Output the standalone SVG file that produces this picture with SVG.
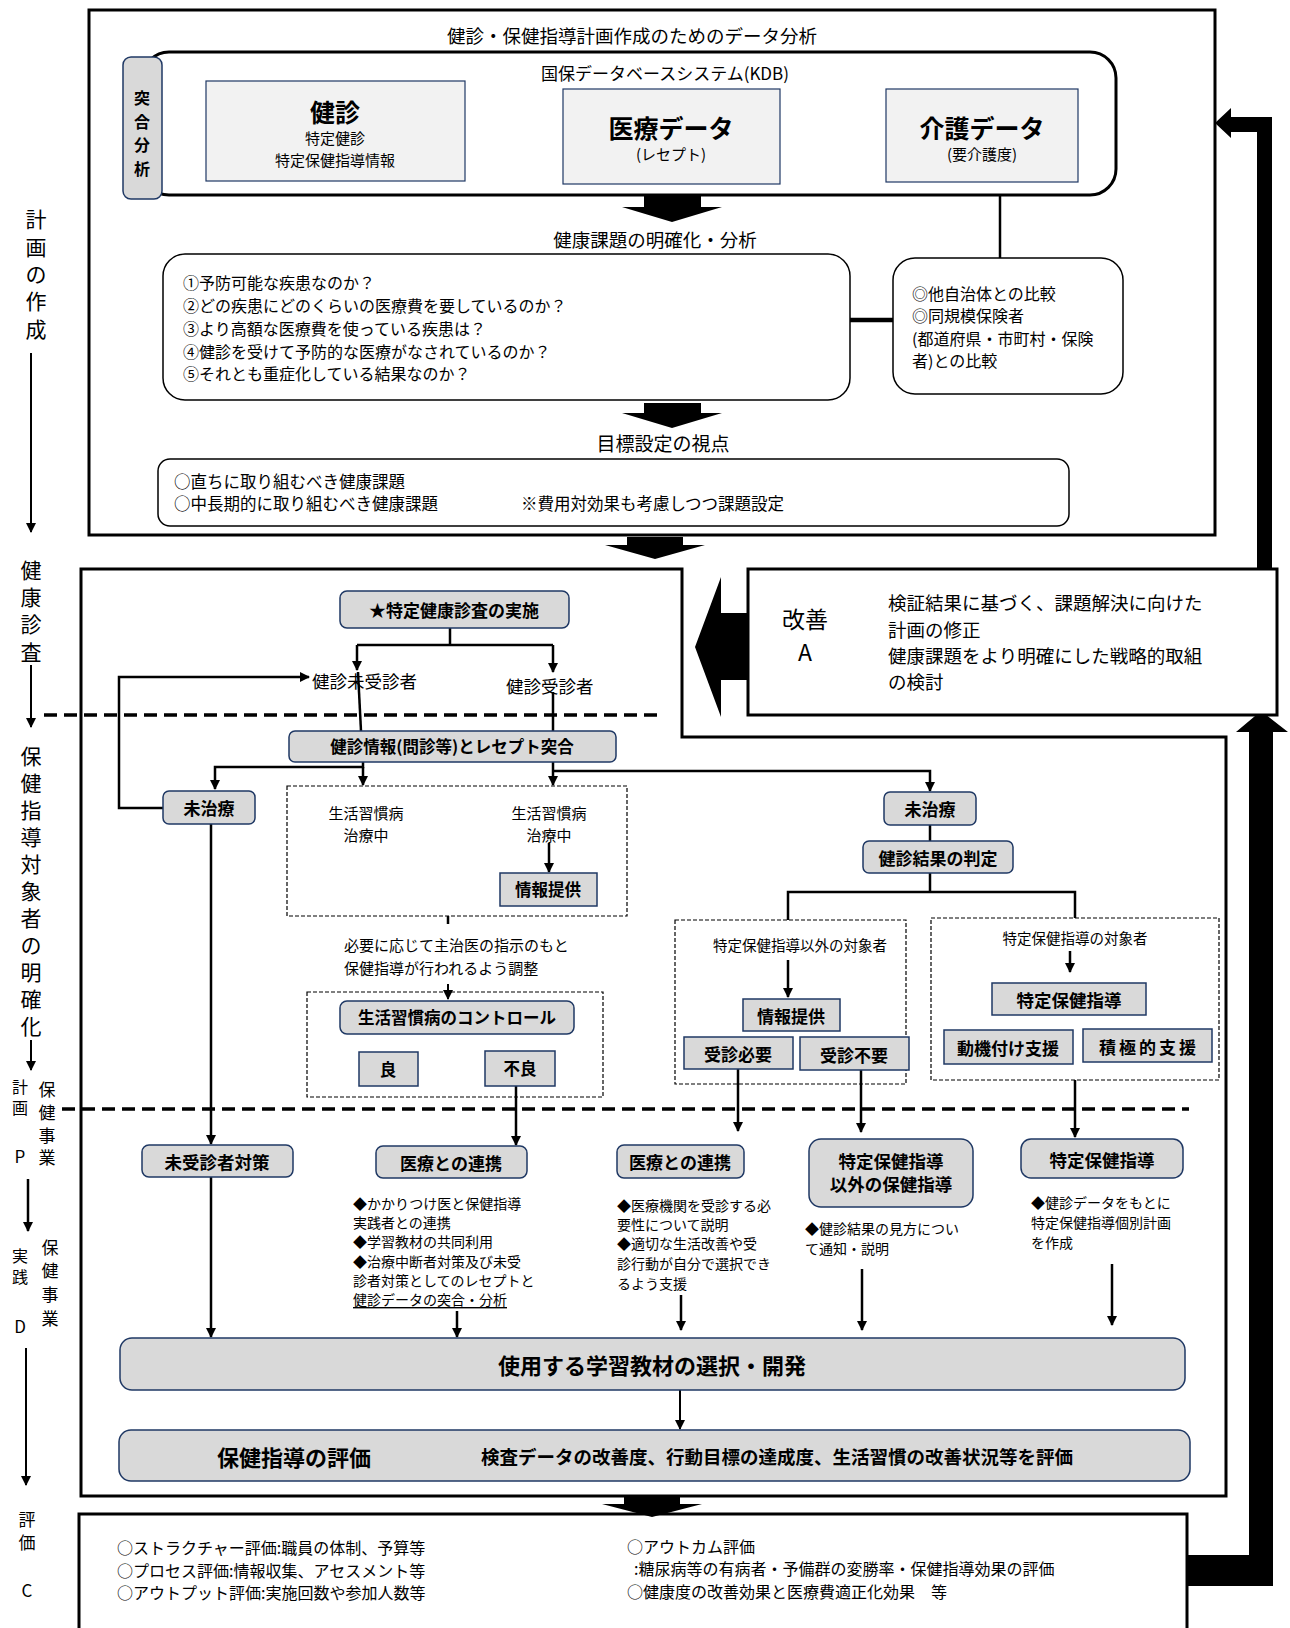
<svg xmlns="http://www.w3.org/2000/svg" width="1290" height="1628" viewBox="0 0 1290 1628">
<defs>
<style>
text{font-family:"Noto Sans CJK JP","Noto Sans",sans-serif;fill:#000;dominant-baseline:central}
.c{text-anchor:middle}
.b{font-weight:700}
.frame{fill:#fff;stroke:#000;stroke-width:3}
.rnd{fill:#fff;stroke:#000;stroke-width:1.5}
.kdb{fill:#f2f2f2;stroke:#1f3864;stroke-width:1.2}
.node{fill:#d9d9d9;stroke:#1f3864;stroke-width:1.5}
.dash{fill:none;stroke:#000;stroke-width:1.2;stroke-dasharray:4 2}
.sep{fill:none;stroke:#000;stroke-width:3.5;stroke-dasharray:13 7}
.ln{fill:none;stroke:#000;stroke-width:2.5}
.ln2{fill:none;stroke:#000;stroke-width:2}
.thick{fill:none;stroke:#000;stroke-width:4.5}
.blk{fill:#000;stroke:none}
</style>
<marker id="ah" viewBox="0 0 10 10" refX="9" refY="5" markerWidth="10" markerHeight="10" markerUnits="userSpaceOnUse" orient="auto">
<path d="M0,0 L10,5 L0,10 z" fill="#000"/>
</marker>
</defs>
<rect width="1290" height="1628" fill="#fff"/>

<!-- side labels -->
<g id="side-labels" font-size="21">
<text class="c" x="36" y="218" font-size="21">計</text>
<text class="c" x="36" y="246" font-size="21">画</text>
<text class="c" x="36" y="273" font-size="21">の</text>
<text class="c" x="36" y="300" font-size="21">作</text>
<text class="c" x="36" y="328" font-size="21">成</text>
<text class="c" x="31" y="569" font-size="21">健</text>
<text class="c" x="31" y="596" font-size="21">康</text>
<text class="c" x="31" y="623" font-size="21">診</text>
<text class="c" x="31" y="651" font-size="21">査</text>
<text class="c" x="31" y="755" font-size="21">保</text>
<text class="c" x="31" y="782" font-size="21">健</text>
<text class="c" x="31" y="809" font-size="21">指</text>
<text class="c" x="31" y="836" font-size="21">導</text>
<text class="c" x="31" y="863" font-size="21">対</text>
<text class="c" x="31" y="890" font-size="21">象</text>
<text class="c" x="31" y="917" font-size="21">者</text>
<text class="c" x="31" y="944" font-size="21">の</text>
<text class="c" x="31" y="971" font-size="21">明</text>
<text class="c" x="31" y="998" font-size="21">確</text>
<text class="c" x="31" y="1025" font-size="21">化</text>
<text class="c" x="20" y="1086" font-size="16">計</text>
<text class="c" x="20" y="1107" font-size="16">画</text>
<text class="c" x="47" y="1088" font-size="17">保</text>
<text class="c" x="47" y="1111" font-size="17">健</text>
<text class="c" x="47" y="1134" font-size="17">事</text>
<text class="c" x="47" y="1156" font-size="17">業</text>
<text class="c" x="20" y="1155" font-size="17">P</text>
<text class="c" x="20" y="1255" font-size="16">実</text>
<text class="c" x="20" y="1276" font-size="16">践</text>
<text class="c" x="50" y="1246" font-size="17">保</text>
<text class="c" x="50" y="1269" font-size="17">健</text>
<text class="c" x="50" y="1293" font-size="17">事</text>
<text class="c" x="50" y="1317" font-size="17">業</text>
<text class="c" x="20" y="1325" font-size="17">D</text>
<text class="c" x="27" y="1518" font-size="17">評</text>
<text class="c" x="27" y="1541" font-size="17">価</text>
<text class="c" x="27" y="1589" font-size="17">C</text>
</g>

<!-- frames -->
<g id="frame-plan">
<rect class="frame" x="89" y="10" width="1126" height="525"/>
<text class="c" x="632" y="35" font-size="18.5">健診・保健指導計画作成のためのデータ分析</text>
</g>
<g id="frame-middle">
<path class="frame" d="M81,569 H682 V737 H1226 V1496 H81 Z"/>
</g>
<g id="frame-eval">
<rect class="frame" x="79" y="1514" width="1108" height="130"/>
<text x="117" y="1547" font-size="16">○ストラクチャー評価:職員の体制、予算等</text>
<text x="117" y="1570" font-size="16">○プロセス評価:情報収集、アセスメント等</text>
<text x="117" y="1592" font-size="16">○アウトプット評価:実施回数や参加人数等</text>
<text x="627" y="1546" font-size="16">○アウトカム評価</text>
<text x="634" y="1568" font-size="16">:糖尿病等の有病者・予備群の変勝率・保健指導効果の評価</text>
<text x="627" y="1591" font-size="16">○健康度の改善効果と医療費適正化効果　等</text>
</g>

<!-- connectors -->
<g id="connectors">
<!-- side arrows -->
<line class="ln2" x1="31" y1="353" x2="31" y2="532" marker-end="url(#ah)"/>
<line class="ln2" x1="31" y1="665" x2="31" y2="727" marker-end="url(#ah)"/>
<line class="ln2" x1="31" y1="1040" x2="31" y2="1070" marker-end="url(#ah)"/>
<line class="ln" x1="28" y1="1179" x2="28" y2="1231" marker-end="url(#ah)"/>
<line class="ln2" x1="26" y1="1348" x2="26" y2="1485" marker-end="url(#ah)"/>
<!-- separators -->
<line class="sep" x1="44" y1="715" x2="662" y2="715"/>
<line class="sep" x1="62" y1="1109" x2="1189" y2="1109"/>
<!-- top section -->
<line class="thick" x1="465" y1="133" x2="563" y2="133"/>
<line class="thick" x1="780" y1="133" x2="886" y2="133"/>
<line class="ln" x1="1000" y1="195" x2="1000" y2="258"/>
<line class="thick" x1="850" y1="320" x2="893" y2="320"/>
<polygon class="blk" points="644,195 701,195 701,207 722,207 672,222 622,207 644,207"/>
<polygon class="blk" points="644,403 701,403 701,413 722,413 672,428 622,413 644,413"/>
<polygon class="blk" points="627,537 683,537 683,545 705,545 655,559 605,545 627,545"/>
<polygon class="blk" points="624,1497 680,1497 680,1504 702,1504 652,1517 602,1504 624,1504"/>
<!-- improve arrow -->
<polygon class="blk" stroke="#8ea9db" stroke-width="0.8" points="695,647 721,577 721,613 748,613 748,680 721,680 721,717"/>
<!-- right feedback arrows -->
<polygon class="blk" points="1257,569 1257,132 1231,132 1231,138 1215,123 1231,108 1231,117 1272,117 1272,569"/>
<polygon class="blk" points="1187,1555 1249,1555 1249,732 1236,732 1261,711 1288,732 1273,732 1273,1586 1187,1586"/>
<!-- middle flow -->
<polyline class="ln" points="450,628 450,645"/>
<polyline class="ln" points="357,645 553,645"/>
<line class="ln" x1="357" y1="645" x2="357" y2="670" marker-end="url(#ah)"/>
<line class="ln" x1="553" y1="645" x2="553" y2="672" marker-end="url(#ah)"/>
<line class="ln" x1="358" y1="672" x2="361" y2="731"/>
<line class="ln" x1="553" y1="692" x2="553" y2="731"/>
<polyline class="ln" points="163,808 119,808 119,677 309,677" marker-end="url(#ah)"/>
<polyline class="ln" points="363,762 363,767 215,767 215,789" marker-end="url(#ah)"/>
<line class="ln" x1="363" y1="767" x2="363" y2="785" marker-end="url(#ah)"/>
<line class="ln" x1="553" y1="762" x2="553" y2="785" marker-end="url(#ah)"/>
<polyline class="ln" points="553,771 930,771 930,791" marker-end="url(#ah)"/>
<line class="ln" x1="211" y1="824" x2="211" y2="1144" marker-end="url(#ah)"/>
<line class="ln" x1="549" y1="843" x2="549" y2="872" marker-end="url(#ah)"/>
<line class="ln" x1="448" y1="916" x2="448" y2="924"/>
<line class="ln2" x1="448" y1="984" x2="448" y2="999" marker-end="url(#ah)"/>
<line class="ln" x1="516" y1="1086" x2="516" y2="1145" marker-end="url(#ah)"/>
<line class="ln" x1="930" y1="825" x2="930" y2="841"/>
<polyline class="ln" points="930,873 930,892"/>
<polyline class="ln" points="788,920 788,892 1075,892 1075,918"/>
<line class="ln" x1="788" y1="960" x2="788" y2="997" marker-end="url(#ah)"/>
<line class="ln" x1="738" y1="1069" x2="738" y2="1131" marker-end="url(#ah)"/>
<line class="ln" x1="861" y1="1070" x2="861" y2="1132" marker-end="url(#ah)"/>
<line class="ln" x1="1070" y1="951" x2="1070" y2="972" marker-end="url(#ah)"/>
<line class="ln" x1="1075" y1="1080" x2="1075" y2="1137" marker-end="url(#ah)"/>
<!-- lower flow -->
<line class="ln" x1="211" y1="1177" x2="211" y2="1337" marker-end="url(#ah)"/>
<line class="ln" x1="457" y1="1311" x2="457" y2="1337" marker-end="url(#ah)"/>
<line class="ln" x1="681" y1="1295" x2="681" y2="1330" marker-end="url(#ah)"/>
<line class="ln" x1="862" y1="1269" x2="862" y2="1330" marker-end="url(#ah)"/>
<line class="ln" x1="1112" y1="1264" x2="1112" y2="1325" marker-end="url(#ah)"/>
<line class="ln2" x1="680" y1="1390" x2="680" y2="1429" marker-end="url(#ah)"/>
</g>

<!-- top section nodes -->
<g id="kdb">
<rect x="143" y="52" width="973" height="143" rx="26" fill="#fff" stroke="#000" stroke-width="3"/>
<text class="c" x="665" y="72" font-size="17">国保データベースシステム(KDB)</text>
</g>
<g id="totsugou">
<rect class="node" x="123" y="57" width="39" height="142" rx="8"/>
<text class="c b" x="142" y="97" font-size="16">突</text>
<text class="c b" x="142" y="120.5" font-size="16">合</text>
<text class="c b" x="142" y="144" font-size="16">分</text>
<text class="c b" x="142" y="167.5" font-size="16">析</text>
</g>
<g id="kenshin">
<rect class="kdb" x="206" y="81" width="259" height="100"/>
<text class="c b" x="335" y="111" font-size="25">健診</text>
<text class="c" x="335" y="137" font-size="15">特定健診</text>
<text class="c" x="335" y="159" font-size="15">特定保健指導情報</text>
</g>
<g id="iryou">
<rect class="kdb" x="563" y="89" width="217" height="95"/>
<text class="c b" x="671" y="127" font-size="25">医療データ</text>
<text class="c" x="671" y="153" font-size="15">(レセプト)</text>
</g>
<g id="kaigo">
<rect class="kdb" x="886" y="89" width="192" height="93"/>
<text class="c b" x="982" y="127" font-size="25">介護データ</text>
<text class="c" x="982" y="153" font-size="15">(要介護度)</text>
</g>
<g id="kadai">
<text class="c" x="655" y="239" font-size="18.5">健康課題の明確化・分析</text>
<rect class="rnd" x="163" y="254" width="687" height="146" rx="22"/>
<text x="183" y="282" font-size="16">①予防可能な疾患なのか？</text>
<text x="183" y="305" font-size="16">②どの疾患にどのくらいの医療費を要しているのか？</text>
<text x="183" y="328" font-size="16">③より高額な医療費を使っている疾患は？</text>
<text x="183" y="351" font-size="16">④健診を受けて予防的な医療がなされているのか？</text>
<text x="183" y="373" font-size="16">⑤それとも重症化している結果なのか？</text>
</g>
<g id="hikaku">
<rect class="rnd" x="893" y="258" width="230" height="136" rx="22"/>
<text x="912" y="293" font-size="16">◎他自治体との比較</text>
<text x="912" y="315" font-size="16">◎同規模保険者</text>
<text x="912" y="338" font-size="16">(都道府県・市町村・保険</text>
<text x="912" y="360" font-size="16">者)との比較</text>
</g>
<g id="mokuhyou">
<text class="c" x="663" y="442" font-size="19">目標設定の視点</text>
<rect class="rnd" x="158" y="459" width="911" height="67" rx="12"/>
<text x="174" y="481" font-size="16.5">○直ちに取り組むべき健康課題</text>
<text x="174" y="503" font-size="16.5">○中長期的に取り組むべき健康課題</text>
<text x="521" y="503" font-size="16.5">※費用対効果も考慮しつつ課題設定</text>
</g>

<!-- improvement -->
<g id="kaizen">
<rect class="frame" x="748" y="569" width="529" height="146"/>
<text class="c" x="805" y="618" font-size="23">改善</text>
<text class="c" x="805" y="651" font-size="23">A</text>
<text x="888" y="602" font-size="18.5">検証結果に基づく、課題解決に向けた</text>
<text x="888" y="629" font-size="18.5">計画の修正</text>
<text x="888" y="655" font-size="18.5">健康課題をより明確にした戦略的取組</text>
<text x="888" y="681" font-size="18.5">の検討</text>
</g>

<!-- middle nodes -->
<g id="jisshi">
<rect class="node" x="340" y="591" width="229" height="37" rx="7"/>
<text class="c b" x="454" y="609" font-size="17">★特定健康診査の実施</text>
</g>
<g id="mijushin">
<text x="312" y="680" font-size="17.5">健診未受診者</text>
</g>
<g id="jushin">
<text x="506" y="685" font-size="17.5">健診受診者</text>
</g>
<g id="totsugou2">
<rect class="node" x="289" y="731" width="327" height="31" rx="6"/>
<text class="c b" x="452" y="746" font-size="16.5">健診情報(問診等)とレセプト突合</text>
</g>
<g id="michiryou-l">
<rect class="node" x="163" y="791" width="92" height="33" rx="6"/>
<text class="c b" x="209" y="807" font-size="17">未治療</text>
</g>
<g id="chiryouchuu">
<rect class="dash" x="287" y="786" width="340" height="130"/>
<text class="c" x="366" y="812" font-size="15">生活習慣病</text>
<text class="c" x="366" y="834" font-size="15">治療中</text>
<text class="c" x="549" y="812" font-size="15">生活習慣病</text>
<text class="c" x="549" y="834" font-size="15">治療中</text>
</g>
<g id="jouhou1">
<rect class="node" x="500" y="873" width="97" height="33"/>
<text class="c b" x="548" y="889" font-size="16.5">情報提供</text>
</g>
<g id="chousei">
<text x="344" y="944" font-size="15">必要に応じて主治医の指示のもと</text>
<text x="344" y="967" font-size="15">保健指導が行われるよう調整</text>
</g>
<g id="control">
<rect class="dash" x="307" y="992" width="296" height="105"/>
<rect class="node" x="340" y="1001" width="234" height="33" rx="7"/>
<text class="c b" x="457" y="1017" font-size="16.5">生活習慣病のコントロール</text>
</g>
<g id="ryou">
<rect class="node" x="359" y="1052" width="59" height="34"/>
<text class="c b" x="388" y="1069" font-size="16.5">良</text>
</g>
<g id="furyou">
<rect class="node" x="485" y="1051" width="70" height="35"/>
<text class="c b" x="520" y="1068" font-size="16.5">不良</text>
</g>
<g id="michiryou-r">
<rect class="node" x="884" y="792" width="92" height="33" rx="6"/>
<text class="c b" x="930" y="808" font-size="17">未治療</text>
</g>
<g id="hantei">
<rect class="node" x="863" y="841" width="150" height="32" rx="6"/>
<text class="c b" x="938" y="857" font-size="17">健診結果の判定</text>
</g>
<g id="igai-taishou">
<rect class="dash" x="675" y="920" width="231" height="164"/>
<text class="c" x="800" y="944" font-size="14.5">特定保健指導以外の対象者</text>
</g>
<g id="jouhou2">
<rect class="node" x="743" y="999" width="97" height="32"/>
<text class="c b" x="791" y="1015" font-size="17">情報提供</text>
</g>
<g id="jushin-hitsuyou">
<rect class="node" x="684" y="1037" width="109" height="32"/>
<text class="c b" x="738" y="1053" font-size="17">受診必要</text>
</g>
<g id="jushin-fuyou">
<rect class="node" x="800" y="1037" width="109" height="33"/>
<text class="c b" x="854" y="1054" font-size="17">受診不要</text>
</g>
<g id="tokutei-taishou">
<rect class="dash" x="931" y="918" width="288" height="162"/>
<text class="c" x="1075" y="937" font-size="14.5">特定保健指導の対象者</text>
</g>
<g id="tokutei1">
<rect class="node" x="992" y="983" width="154" height="32"/>
<text class="c b" x="1069" y="999" font-size="17.5">特定保健指導</text>
</g>
<g id="douki">
<rect class="node" x="944" y="1030" width="129" height="34"/>
<text class="c b" x="1008" y="1047" font-size="17">動機付け支援</text>
</g>
<g id="sekkyoku">
<rect class="node" x="1083" y="1029" width="129" height="33"/>
<text class="c b" x="1149" y="1046" font-size="17" letter-spacing="3">積極的支援</text>
</g>

<!-- lower nodes -->
<g id="mijushin-taisaku">
<rect class="node" x="142" y="1145" width="151" height="32" rx="7"/>
<text class="c b" x="217" y="1161" font-size="17.5">未受診者対策</text>
</g>
<g id="renkei1">
<rect class="node" x="376" y="1146" width="151" height="32" rx="7"/>
<text class="c b" x="451" y="1162" font-size="17">医療との連携</text>
<text x="353" y="1203" font-size="14">◆かかりつけ医と保健指導</text>
<text x="353" y="1222" font-size="14">実践者との連携</text>
<text x="353" y="1241" font-size="14">◆学習教材の共同利用</text>
<text x="353" y="1261" font-size="14">◆治療中断者対策及び未受</text>
<text x="353" y="1280" font-size="14">診者対策としてのレセプトと</text>
<text x="353" y="1299" font-size="14" text-decoration="underline">健診データの突合・分析</text>
</g>
<g id="renkei2">
<rect class="node" x="617" y="1145" width="127" height="33" rx="7"/>
<text class="c b" x="680" y="1161" font-size="17">医療との連携</text>
<text x="617" y="1205" font-size="14">◆医療機関を受診する必</text>
<text x="617" y="1224" font-size="14">要性について説明</text>
<text x="617" y="1243" font-size="14">◆適切な生活改善や受</text>
<text x="617" y="1263" font-size="14">診行動が自分で選択でき</text>
<text x="617" y="1283" font-size="14">るよう支援</text>
</g>
<g id="igai-shidou">
<rect class="node" x="809" y="1139" width="164" height="68" rx="12"/>
<text class="c b" x="891" y="1160" font-size="17.5">特定保健指導</text>
<text class="c b" x="891" y="1183" font-size="17.5">以外の保健指導</text>
<text x="805" y="1228" font-size="14">◆健診結果の見方につい</text>
<text x="805" y="1248" font-size="14">て通知・説明</text>
</g>
<g id="tokutei2">
<rect class="node" x="1021" y="1139" width="162" height="39" rx="10"/>
<text class="c b" x="1102" y="1159" font-size="17.5">特定保健指導</text>
<text x="1031" y="1202" font-size="14">◆健診データをもとに</text>
<text x="1031" y="1222" font-size="14">特定保健指導個別計画</text>
<text x="1031" y="1242" font-size="14">を作成</text>
</g>
<g id="kyouzai">
<rect class="node" x="120" y="1338" width="1065" height="52" rx="12"/>
<text class="c b" x="652" y="1364" font-size="22">使用する学習教材の選択・開発</text>
</g>
<g id="hyouka">
<rect class="node" x="119" y="1430" width="1071" height="51" rx="12"/>
<text class="c b" x="294" y="1456" font-size="22">保健指導の評価</text>
<text class="b" x="481" y="1456" font-size="18.5">検査データの改善度、行動目標の達成度、生活習慣の改善状況等を評価</text>
</g>
</svg>
